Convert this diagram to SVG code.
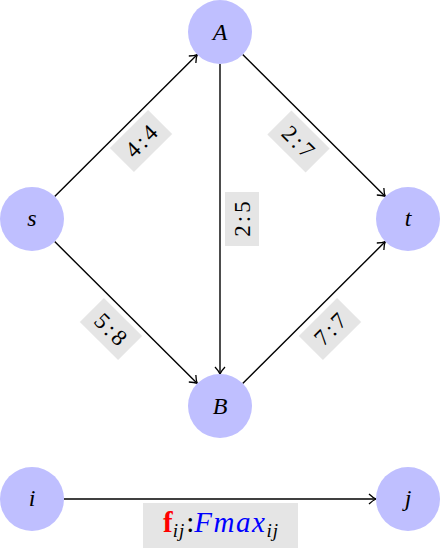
<svg xmlns="http://www.w3.org/2000/svg" width="441" height="551" viewBox="0 0 441 551">
<style>
.node{fill:#bfbfff}
.nl{font-family:"Liberation Serif","DejaVu Serif",serif;font-style:italic;font-size:24px;text-anchor:middle;fill:#000}
.edge{stroke:#000;stroke-width:1.4;fill:none;marker-end:url(#arr)}
.lb{fill:#e5e5e5}
.lt{font-family:"Liberation Serif","DejaVu Serif",serif;font-size:23px;text-anchor:middle;letter-spacing:3px;fill:#000}
.bt{font-family:"Liberation Serif","DejaVu Serif",serif;font-size:29px}
</style>
<defs>
<marker id="arr" markerUnits="userSpaceOnUse" markerWidth="16" markerHeight="16" viewBox="-10 -8 12 16" refX="0" refY="0" orient="auto" overflow="visible">
<path d="M-7,-5 Q-3,-1.2 0,0 Q-3,1.2 -7,5" fill="none" stroke="#000" stroke-width="1.3"/>
</marker>
</defs>
<rect width="441" height="551" fill="#fff"/>
<g id="connectors">
<line class="edge" x1="54.7" y1="196.4" x2="197.3" y2="54.6"/>
<line class="edge" x1="242.7" y1="54.6" x2="385.3" y2="196.4"/>
<line class="edge" x1="54.7" y1="241.6" x2="197.3" y2="383.4"/>
<line class="edge" x1="242.7" y1="383.4" x2="385.3" y2="241.6"/>
<line class="edge" x1="220" y1="64" x2="220" y2="374"/>
<line class="edge" x1="64" y1="499" x2="376" y2="499"/>
<g transform="translate(141,141) rotate(-45)">
<rect class="lb" x="-27" y="-17" width="54" height="34"/>
<text class="lt" x="1.5" y="8">4:4</text>
</g>
<g transform="translate(298.5,141.5) rotate(45)">
<rect class="lb" x="-27" y="-17" width="54" height="34"/>
<text class="lt" x="1.5" y="8">2:7</text>
</g>
<g transform="translate(242,219) rotate(-90)">
<rect class="lb" x="-27" y="-17" width="54" height="34"/>
<text class="lt" x="1.5" y="8">2:5</text>
</g>
<g transform="translate(111,329) rotate(45)">
<rect class="lb" x="-27" y="-17" width="54" height="34"/>
<text class="lt" x="1.5" y="8">5:8</text>
</g>
<g transform="translate(330,329) rotate(-45)">
<rect class="lb" x="-27" y="-17" width="54" height="34"/>
<text class="lt" x="1.5" y="8">7:7</text>
</g>
<rect class="lb" x="143" y="503" width="155" height="45"/>
<text class="bt" x="221" y="532" text-anchor="middle"><tspan fill="#ff0000" font-weight="bold">f</tspan><tspan font-style="italic" font-size="19" dy="5" letter-spacing="1">ij</tspan><tspan dy="-5" dx="1">:</tspan><tspan fill="#0000ff" font-style="italic" letter-spacing="1.5">Fmax</tspan><tspan font-style="italic" font-size="19" dy="5" letter-spacing="1">ij</tspan></text>
</g>
<g id="node-A"><circle class="node" cx="220" cy="32" r="32"/><text class="nl" x="220" y="40">A</text></g>
<g id="node-s"><circle class="node" cx="32" cy="219" r="32"/><text class="nl" x="32" y="226">s</text></g>
<g id="node-t"><circle class="node" cx="408" cy="219" r="32"/><text class="nl" x="408" y="226">t</text></g>
<g id="node-B"><circle class="node" cx="220" cy="406" r="32"/><text class="nl" x="220" y="414">B</text></g>
<g id="node-i"><circle class="node" cx="32" cy="499" r="32"/><text class="nl" x="32" y="506">i</text></g>
<g id="node-j"><circle class="node" cx="408" cy="499" r="32"/><text class="nl" x="408" y="506">j</text></g>
</svg>
